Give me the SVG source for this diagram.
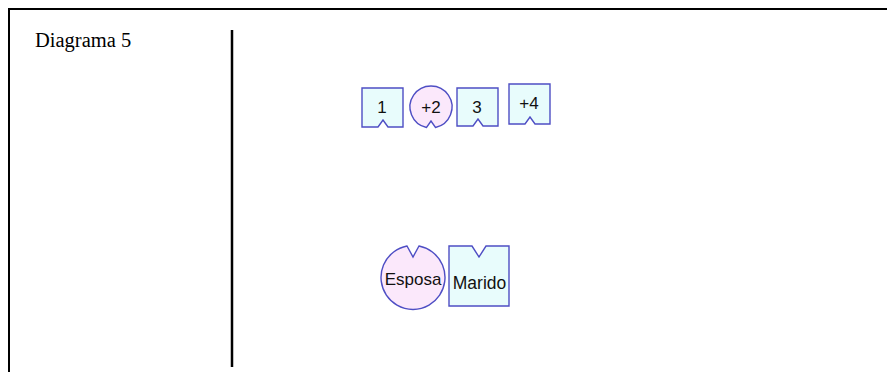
<svg xmlns="http://www.w3.org/2000/svg" width="887" height="372" viewBox="0 0 887 372">
<style>
.sq{fill:#e8fcfc;stroke:#4e4ec4;stroke-width:1.4}
.ci{fill:#fbe8fb;stroke:#4e4ec4;stroke-width:1.4}
.lb{font-family:"Liberation Sans",Arial,sans-serif;font-size:17px;fill:#111;text-anchor:middle}
.frame{fill:none;stroke:#000;stroke-width:2}
</style>
<rect width="887" height="372" fill="#fff"/>
<path class="frame" d="M9,380 V9 H890"/>
<line x1="232" y1="30" x2="232" y2="367" stroke="#000" stroke-width="2.5"/>
<text x="35" y="47" font-family="'Liberation Serif','Times New Roman',serif" font-size="20.5" fill="#000">Diagrama 5</text>
<g id="n1">
<path class="sq" d="M362,88 H403 V127 H388 L383,120 L378,127 H362 Z"/>
<text class="lb" x="382" y="113">1</text>
</g>
<g id="n2">
<path class="ci" d="M426.5,127.5 A21,21 0 1 1 435.5,127.5 L431,121 Z"/>
<text class="lb" x="431" y="113">+2</text>
</g>
<g id="n3">
<path class="sq" d="M457,88 H498 V126 H483 L478,119 L473,126 H457 Z"/>
<text class="lb" x="477" y="113">3</text>
</g>
<g id="n4">
<path class="sq" d="M509,84 H550 V124 H535 L530,117 L525,124 H509 Z"/>
<text class="lb" x="529" y="109">+4</text>
</g>
<g id="esposa">
<path class="ci" d="M407,246 A32,32 0 1 0 419,246 L413,257 Z"/>
<text class="lb" x="413" y="285">Esposa</text>
</g>
<g id="marido">
<path class="sq" d="M449,246 H472 L479,257 L486,246 H509 V306 H449 Z"/>
<text class="lb" x="479.5" y="289" style="font-size:17.5px">Marido</text>
</g>
<g id="connectors"></g>
</svg>
